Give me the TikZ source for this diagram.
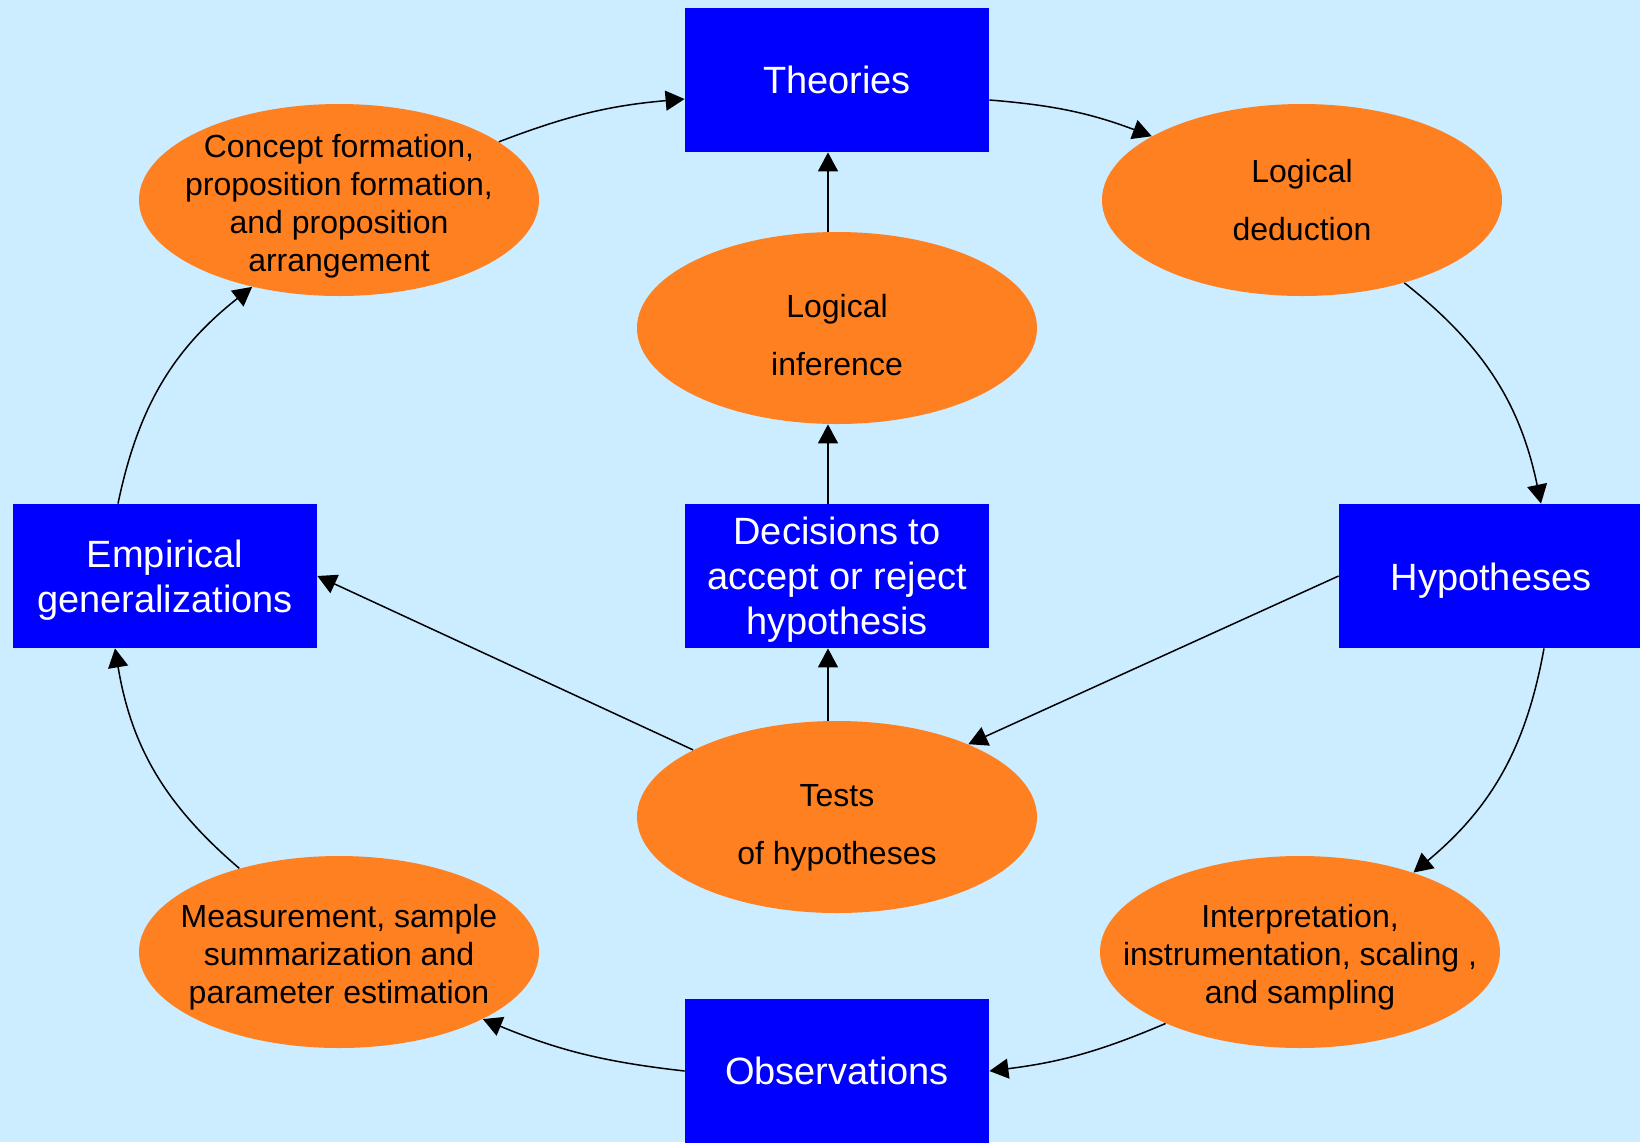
\documentclass[tikz,border=0pt]{standalone}
\usepackage{fontspec}
\setmainfont{Liberation Sans}
\usetikzlibrary{shapes.geometric,arrows.meta,calc}
\definecolor{sky}{HTML}{CCECFF}
\definecolor{boxblue}{HTML}{0000FF}
\definecolor{orng}{HTML}{FF8020}
\newcommand{\ox}{9}
\newcommand{\lift}[1]{\rule{0pt}{#1}}

\tikzset{
  stage/.style={rectangle,fill=boxblue,text=white,minimum width=152pt,minimum height=72pt,
    inner sep=0pt,align=center,font=\fontsize{19}{22.5}\selectfont},
  process/.style={ellipse,fill=orng,minimum width=200pt,minimum height=96pt,
    inner xsep=-22pt,inner ysep=-6pt,align=center,font=\fontsize{16}{19}\selectfont},
  link/.style={-{Triangle[length=9.5pt,width=10pt]},line width=0.75pt}
}

\begin{document}
\begin{tikzpicture}[x=0.5pt,y=-0.5pt]
\fill[sky] (0,0) rectangle (1640,1142);
\useasboundingbox (0,0) rectangle (1640,1142);
%
\node[stage]   (theo)   at (837,80)   {Theories};
\node[stage]   (emp)    at (165,576)  {\lift{18pt}Empirical\\generalizations};
\node[stage]   (dec)    at (837,576)  {\lift{17pt}Decisions to\\accept or reject\\hypothesis};
\node[stage]   (hyp)    at (1491,576) {\lift{18pt}Hypotheses};
\node[stage]   (obs)    at (837,1071) {Observations};
\node[process] (conc)   at (339,200)  {\lift{18pt}Concept formation,\\proposition formation,\\and proposition\\arrangement};
\node[process] (ded)    at (1302,200) {Logical\\[10pt]deduction};
\node[process] (inf)    at (837,328)  {\lift{18.5pt}Logical\\[10pt]inference};
\node[process] (tests)  at (837,817)  {\lift{21.5pt}Tests\\[10pt]of hypotheses};
\node[process] (meas)   at (339,952)  {\lift{16.5pt}Measurement, sample\\summarization and\\parameter estimation};
\node[process] (interp) at (1300,952) {\lift{16.5pt}Interpretation,\\instrumentation, scaling ,\\and sampling};
%
\path[link]
	(conc.20)                  edge[bend left=8]  ($(theo.west)+(0,19)$)
	($(theo.east)+(0,20)$)     edge[bend left=8]  (ded.157)
	(ded.-39)                  edge[bend left=20] ($(hyp.north)+(50,0)$)
	($(hyp.south)+(53,0)$)     edge[bend left=20] (interp.35)
	(interp.-152)              edge[bend left=8]  (obs.east)
	(obs.west)                 edge[bend left=8]  (meas.-25)
	(meas.140)                 edge[bend left=20] ($(emp.south)+(-50,0)$)
	($(emp.north)+(-47,0)$)    edge[bend left=20] (conc.-135)
	(hyp.west)                 edge               (tests.29)
	(tests.155)                edge               (emp.east)
	($(tests.north)+(-\ox,0)$) edge               ($(dec.south)+(-\ox,0)$)
	($(dec.north)+(-\ox,0)$)   edge               ($(inf.south)+(-\ox,0)$)
	($(inf.north)+(-\ox,0)$)   edge               ($(theo.south)+(-\ox,0)$)
; %-path-%
\end{tikzpicture}
\end{document}
